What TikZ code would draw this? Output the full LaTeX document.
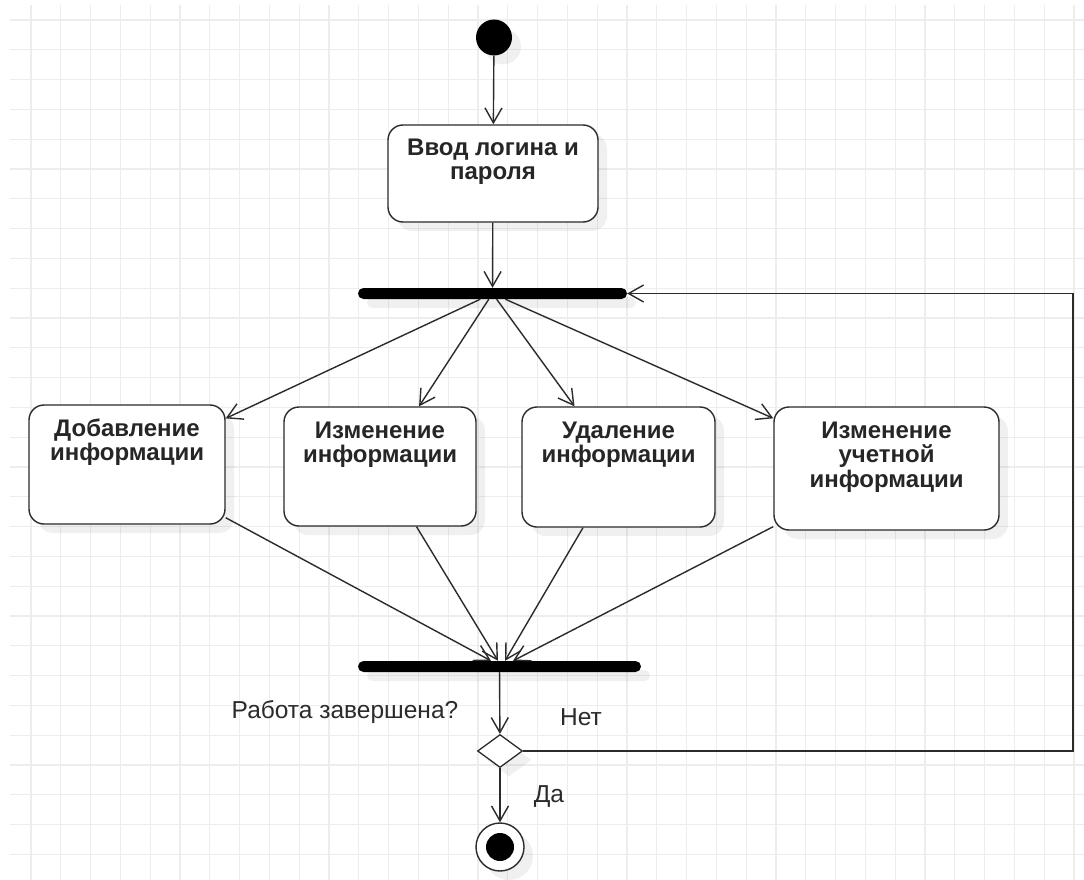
\documentclass[tikz,border=0pt]{standalone}
\usepackage{fontspec}
\setmainfont{Liberation Sans}
\usetikzlibrary{shapes.geometric, positioning, arrows.meta, shadows}
\definecolor{linegray}{HTML}{2B2B2B}
\definecolor{gridgray}{HTML}{EDEDED}
\tikzset{
	flow/.style={->, >={Straight Barb[length=15pt,width=17pt]}, line width=1.4pt, draw=linegray},
	every edge/.style={
		draw, flow
	}
}

\begin{document}
\begin{tikzpicture}[x=1pt, y=-1pt,
	softshadow/.style={drop shadow={shadow xshift=9pt, shadow yshift=-9pt, fill=black, opacity=0.06}},
	activity/.style={draw=linegray, line width=1.4pt, rounded corners=15pt, fill=white, inner sep=0pt, softshadow},
	acttext/.style={font=\fontsize{24}{24.5}\selectfont\bfseries, align=center, text=black!85, inner sep=0pt},
	bar/.style={fill=black, rounded corners=5.5pt, minimum height=11pt, inner sep=0pt, softshadow},
	guard/.style={font=\fontsize{24.5}{25}\selectfont, text=linegray, inner sep=0pt},
	gridline/.style={draw=gridgray, line width=1.2pt}]
	\useasboundingbox (0,0) rectangle (1084,880);
	\fill[white] (0,0) rectangle (1084,880);
	\foreach \i in {0,...,35} \draw[gridline] (31+29.8*\i,5) -- (31+29.8*\i,880);
	\foreach \j in {0,...,28} \draw[gridline] (10,20+29.8*\j) -- (1084,20+29.8*\j);

	\node[circle, fill=black, minimum size=36pt, inner sep=0pt, softshadow] (start) at (494,37.5) {};
	\node[activity, minimum width=210pt, minimum height=97pt] (login) at (493,173.5) {};
	\node[acttext, below=14pt of login.north] (login-t) {Ввод логина и\\пароля};
	\node[bar, minimum width=269pt] (fork) at (492.5,293.5) {};

	\node[activity, minimum width=196pt, minimum height=119pt] (add) at (127,464.5) {};
	\node[activity, minimum width=192pt, minimum height=119pt] (edit) at (380,466.5) {};
	\node[activity, minimum width=193pt, minimum height=120pt] (del) at (618.5,467) {};
	\node[activity, minimum width=225pt, minimum height=123pt] (acct) at (886.5,468.5) {};
	\node[acttext, below=14pt of add.north] (add-t) {Добавление\\информации};
	\node[acttext, below=15pt of edit.north] (edit-t) {Изменение\\информации};
	\node[acttext, below=15pt of del.north] (del-t) {Удаление\\информации};
	\node[acttext, below=15pt of acct.north] (acct-t) {Изменение\\учетной\\информации};

	\node[bar, minimum width=283pt] (join) at (499.5,666.5) {};
	\node[diamond, draw=linegray, line width=1.3pt, fill=white, minimum width=45pt, minimum height=33pt, inner sep=0pt, softshadow] (dec) at (500,751) {};
	\node[circle, draw=linegray, line width=1.4pt, fill=white, minimum size=48pt, inner sep=0pt, softshadow,
		path picture={\fill[black] (path picture bounding box.center) circle (14pt);}] (stop) at (500,847) {};
	\coordinate (loop) at (1073,751);

	\node[guard] (q) at (345,712) {Работа завершена?};
	\node[guard] (no) at (581,717) {Нет};
	\node[guard] (yes) at (549,797) {Да};

	\draw (start) edge (login);
	\draw (login) edge (fork);
	\draw (fork) edge (add);
	\draw (fork) edge (edit);
	\draw (fork) edge (del);
	\draw (fork) edge (acct);
	\draw (add) edge ([xshift=-8.5pt]join.north);
	\draw (edit) edge ([xshift=-1.5pt]join.north);
	\draw (del) edge ([xshift=5.5pt]join.north);
	\draw (acct) edge ([xshift=13.5pt]join.north);
	\draw (join) edge (dec);
	\draw (dec) edge (stop);
	\draw[flow] (dec.east) -- (loop) |- (fork.east);
\end{tikzpicture}
\end{document}
